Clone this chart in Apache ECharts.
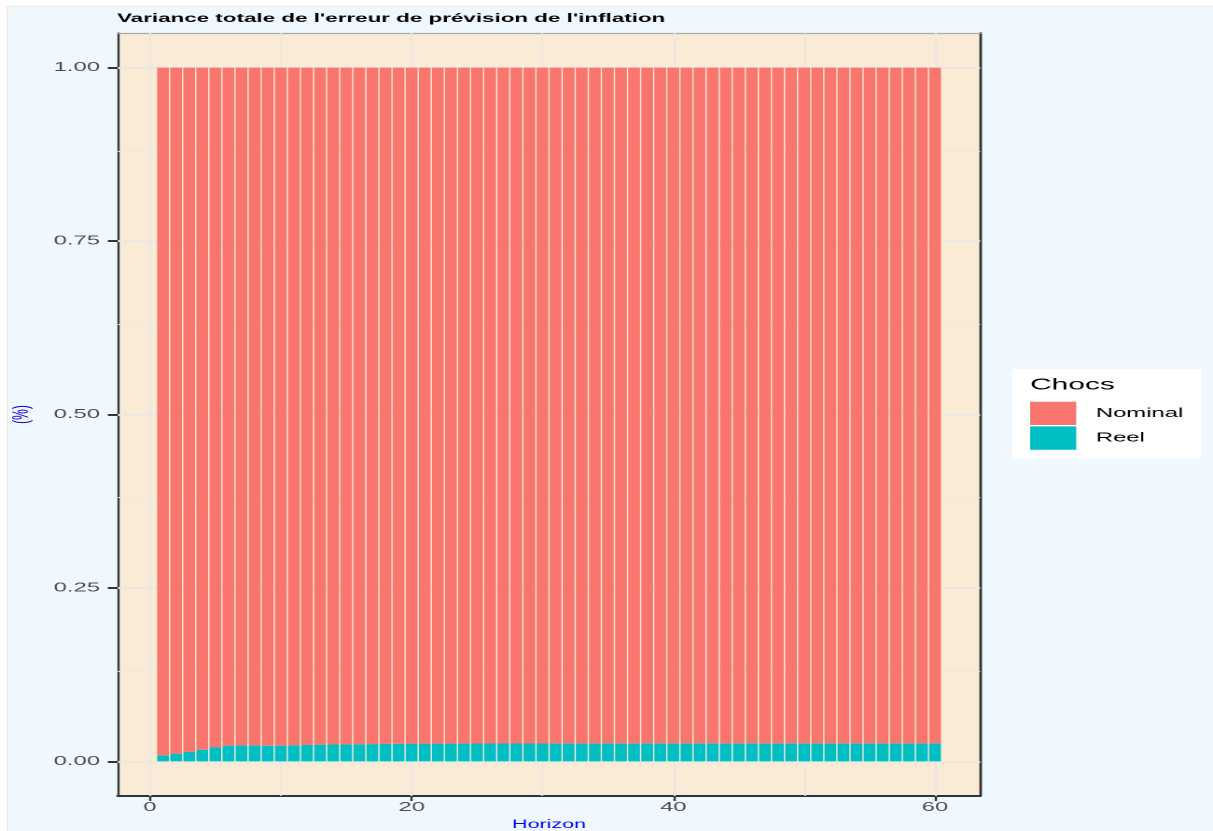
<!DOCTYPE html>
<html>
<head>
<meta charset="utf-8">
<title>Variance totale de l'erreur de prévision de l'inflation</title>
<script src="https://cdn.jsdelivr.net/npm/echarts@6/dist/echarts.min.js"></script>
<style>
  html, body { margin: 0; padding: 0; background: #ffffff; width: 1213px; height: 831px; overflow: hidden; }
  #bg { position: absolute; left: 7px; top: 6px; right: 0; bottom: 0; background: #F0F8FF; border-left: 1px solid #F6E7D5; border-top: 1px solid #F6E7D5; }
  /* the reference plot is stretched horizontally, so draw narrow and stretch */
  #main { position: absolute; left: 0; top: 0; width: 650px; height: 831px; transform: scaleX(1.86615); transform-origin: 0 0; }
</style>
</head>
<body>
<div id="bg"></div>
<div id="main"></div>
<script>
// horizons 1..60
var horizon = [1, 2, 3, 4, 5, 6, 7, 8, 9, 10, 11, 12, 13, 14, 15, 16, 17, 18, 19, 20,
  21, 22, 23, 24, 25, 26, 27, 28, 29, 30, 31, 32, 33, 34, 35, 36, 37, 38, 39, 40,
  41, 42, 43, 44, 45, 46, 47, 48, 49, 50, 51, 52, 53, 54, 55, 56, 57, 58, 59, 60]

// part de la variance due aux chocs reels
var reel = [0.0087, 0.0110, 0.0136, 0.0166, 0.0199, 0.0226, 0.0229, 0.0229, 0.0224, 0.0226,
  0.0231, 0.0236, 0.0240, 0.0243, 0.0245, 0.0246, 0.0248, 0.0251, 0.0253, 0.0254,
  0.0255, 0.0255, 0.0256, 0.0256, 0.0257, 0.0257, 0.0257, 0.0257, 0.0257, 0.0257,
  0.0258, 0.0258, 0.0258, 0.0258, 0.0258, 0.0258, 0.0258, 0.0258, 0.0258, 0.0258,
  0.0258, 0.0258, 0.0258, 0.0258, 0.0258, 0.0258, 0.0258, 0.0258, 0.0258, 0.0258,
  0.0258, 0.0258, 0.0258, 0.0258, 0.0258, 0.0258, 0.0258, 0.0258, 0.0258, 0.0258]

// part de la variance due aux chocs nominaux
var nominal = [0.9913, 0.9890, 0.9864, 0.9834, 0.9801, 0.9774, 0.9771, 0.9771, 0.9776, 0.9774,
  0.9769, 0.9764, 0.9760, 0.9757, 0.9755, 0.9754, 0.9752, 0.9749, 0.9747, 0.9746,
  0.9745, 0.9745, 0.9744, 0.9744, 0.9743, 0.9743, 0.9743, 0.9743, 0.9743, 0.9743,
  0.9742, 0.9742, 0.9742, 0.9742, 0.9742, 0.9742, 0.9742, 0.9742, 0.9742, 0.9742,
  0.9742, 0.9742, 0.9742, 0.9742, 0.9742, 0.9742, 0.9742, 0.9742, 0.9742, 0.9742,
  0.9742, 0.9742, 0.9742, 0.9742, 0.9742, 0.9742, 0.9742, 0.9742, 0.9742, 0.9742]

var xTicks = [0, 20, 40, 60]
var xMinor = [10, 30, 50]
var yTicks = [0, 0.25, 0.5, 0.75, 1]
var yMinor = [0.125, 0.375, 0.625, 0.875]

var gridColor = '#EBE7E2'

// panel grid lines, like ggplot's major / minor grid
var gridLines = []
xTicks.forEach(function (v) { gridLines.push({ xAxis: v, lineStyle: { width: 1.1 } }) })
xMinor.forEach(function (v) { gridLines.push({ xAxis: v, lineStyle: { width: 0.8 } }) })
yTicks.forEach(function (v) { gridLines.push({ yAxis: v, lineStyle: { width: 2 } }) })
yMinor.forEach(function (v) { gridLines.push({ yAxis: v, lineStyle: { width: 1 } }) })

var chart = echarts.init(document.getElementById('main'), null, { renderer: 'canvas', devicePixelRatio: 2 })

chart.setOption({
  animation: false,
  textStyle: { fontFamily: 'Liberation Sans, Arial, sans-serif' },
  title: [
    {
      text: "Variance totale de l'erreur de prévision de l'inflation",
      left: 62.7,
      top: 12.5,
      padding: 0,
      textStyle: { fontSize: 12, fontWeight: 'bold', color: '#000000' }
    },
    {
      text: 'Chocs',
      left: 552,
      top: 377,
      padding: 0,
      textStyle: { fontSize: 16, fontWeight: 'normal', color: '#000000' }
    }
  ],
  legend: {
    data: ['Nominal', 'Reel'],
    orient: 'vertical',
    left: 542.3,
    top: 369,
    padding: [32.7, 9.5, 9, 9.7],
    backgroundColor: '#ffffff',
    itemWidth: 24.7,
    itemHeight: 23.3,
    itemGap: 1.4,
    icon: 'rect',
    selectedMode: false,
    textStyle: { fontSize: 12.8, color: '#000000', padding: [0, 0, 0, 5.5] }
  },
  grid: [
    {
      // panel: x from -2.445 to 63.445 (ggplot expansion)
      left: 63.2,
      right: 124.8,
      top: 33,
      bottom: 35,
      outerBoundsMode: 'none',
      show: true,
      backgroundColor: '#FAEBD7',
      borderWidth: 0
    },
    {
      // bar area: horizons 0.5 .. 60.5 inside the panel
      left: 83.85,
      right: 145.45,
      top: 33,
      bottom: 35,
      outerBoundsMode: 'none',
      show: false
    }
  ],
  xAxis: [
    {
      type: 'value',
      gridIndex: 0,
      min: -2.445,
      max: 63.445,
      name: 'Horizon',
      nameLocation: 'middle',
      nameGap: 21,
      nameTextStyle: { color: '#0000FF', fontSize: 11.5 },
      axisLine: { show: true, onZero: false, lineStyle: { color: '#333333', width: 2 } },
      axisTick: { show: true, length: 5, customValues: xTicks, lineStyle: { color: '#333333', width: 1.2 } },
      axisLabel: { customValues: xTicks, margin: 5, fontSize: 12.8, color: '#4D4D4D' },
      splitLine: { show: false }
    },
    {
      type: 'category',
      gridIndex: 1,
      data: horizon,
      show: false
    },
    {
      // thin top edge of the panel
      type: 'value',
      gridIndex: 0,
      position: 'top',
      min: -2.445,
      max: 63.445,
      axisLine: { show: true, onZero: false, lineStyle: { color: '#A8A8A8', width: 1.2 } },
      axisTick: { show: false },
      axisLabel: { show: false },
      splitLine: { show: false }
    }
  ],
  yAxis: [
    {
      type: 'value',
      gridIndex: 0,
      min: -0.05,
      max: 1.05,
      name: '(%)',
      nameLocation: 'middle',
      nameRotate: 90,
      nameGap: 39,
      nameTextStyle: { color: '#0000CC', fontSize: 12 },
      axisLine: { show: true, onZero: false, lineStyle: { color: '#333333', width: 1.2 } },
      axisTick: { show: true, length: 5.4, customValues: yTicks, lineStyle: { color: '#333333', width: 2 } },
      axisLabel: {
        customValues: yTicks,
        margin: 9.6,
        fontSize: 12.8,
        color: '#4D4D4D',
        formatter: function (v) { return v.toFixed(2) }
      },
      splitLine: { show: false }
    },
    {
      // dark right edge of the panel
      type: 'value',
      gridIndex: 0,
      position: 'right',
      min: -0.05,
      max: 1.05,
      axisLine: { show: true, onZero: false, lineStyle: { color: '#333333', width: 1.4 } },
      axisTick: { show: false },
      axisLabel: { show: false },
      splitLine: { show: false }
    },
    {
      type: 'value',
      gridIndex: 1,
      min: -0.05,
      max: 1.05,
      show: false
    }
  ],
  series: [
    {
      name: 'grid',
      type: 'line',
      xAxisIndex: 0,
      yAxisIndex: 0,
      data: [],
      z: 1,
      silent: true,
      markLine: {
        z: 1,
        silent: true,
        symbol: 'none',
        label: { show: false },
        lineStyle: { color: gridColor, type: 'solid' },
        data: gridLines
      }
    },
    {
      name: 'Reel',
      type: 'bar',
      xAxisIndex: 1,
      yAxisIndex: 2,
      stack: 'chocs',
      barWidth: '90%',
      z: 3,
      itemStyle: { color: '#00BFC4' },
      data: reel
    },
    {
      name: 'Nominal',
      type: 'bar',
      xAxisIndex: 1,
      yAxisIndex: 2,
      stack: 'chocs',
      barWidth: '90%',
      z: 3,
      itemStyle: { color: '#F8766D' },
      data: nominal
    }
  ]
})
</script>
</body>
</html>
